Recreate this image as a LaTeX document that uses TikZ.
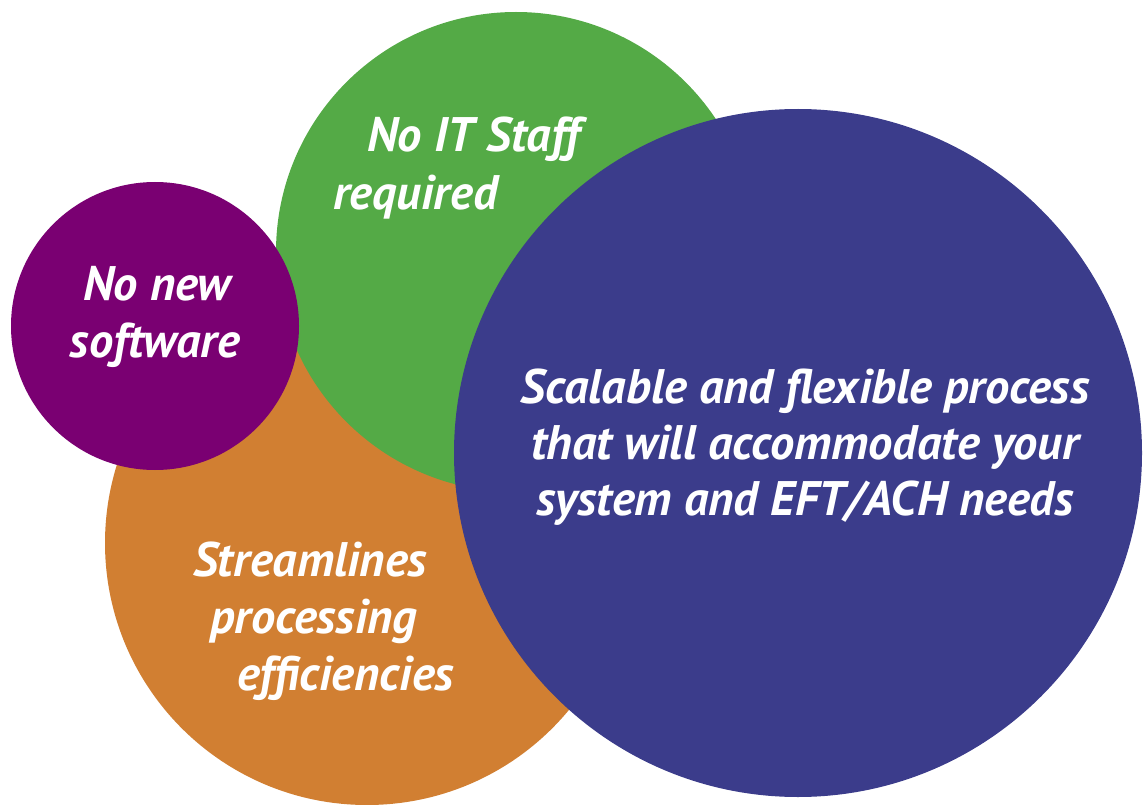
\documentclass[tikz,border=0pt]{standalone}
\usepackage{fontspec}
\setmainfont{PT Sans}
\definecolor{cPurple}{HTML}{7A0072}
\definecolor{cGreen}{HTML}{54AA46}
\definecolor{cOrange}{HTML}{D17F32}
\definecolor{cBlue}{HTML}{3B3C8B}
\tikzset{
  lbl/.style={text=white, inner sep=0pt, font=\fontsize{48.5}{58}\selectfont\bfseries\itshape},
}
\begin{document}
\begin{tikzpicture}[x=1pt,y=-1pt]
\useasboundingbox (0,0) rectangle (1143,805);
\fill[cOrange] (367,543) circle[radius=262pt];
\fill[cGreen] (516,252) circle[radius=240pt];
\fill[cPurple] (155,326) circle[radius=144pt];
\fill[cBlue] (798,453) circle[radius=344pt];
% green
\node[lbl, anchor=base west] (g1) at (367,152) {No IT Staff};
\node[lbl, anchor=base west] (g2) at (333,210) {required};
% purple
\node[lbl, anchor=base] (p1) at (157,300) {No new};
\node[lbl, anchor=base] (p2) at (155,357) {software};
% orange
\node[lbl, anchor=base west] (o1) at (193,576) {Streamlines};
\node[lbl, anchor=base west] (o2) at (210,633) {processing};
\node[lbl, anchor=base west] (o3) at (237,690) {efficiencies};
% blue
\node[lbl, anchor=base] (b1) at (805,403) {Scalable and flexible process};
\node[lbl, anchor=base] (b2) at (805,459) {that will accommodate your};
\node[lbl, anchor=base] (b3) at (805,515) {system and EFT/ACH needs};
\end{tikzpicture}
\end{document}
